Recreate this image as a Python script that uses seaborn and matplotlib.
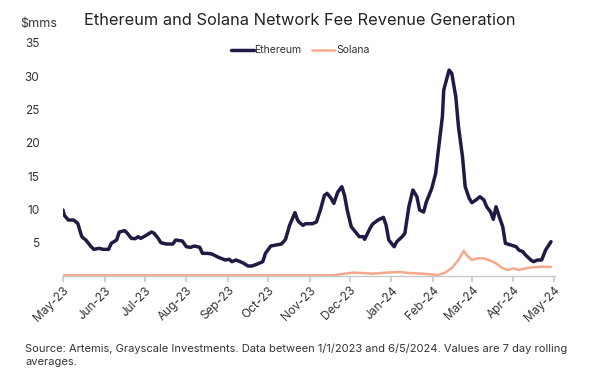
import matplotlib
matplotlib.use("Agg")
import matplotlib.pyplot as plt
import matplotlib.dates as mdates
from matplotlib.lines import Line2D
import seaborn as sns
import pandas as pd

eth_dates = ["2023-05-01","2023-05-02","2023-05-05","2023-05-09","2023-05-12","2023-05-15","2023-05-18",
             "2023-05-22","2023-05-24","2023-05-28","2023-05-31","2023-06-04","2023-06-06","2023-06-10",
             "2023-06-12","2023-06-16","2023-06-18","2023-06-21","2023-06-24","2023-06-26","2023-06-28",
             "2023-07-02","2023-07-06","2023-07-08","2023-07-11","2023-07-13","2023-07-17","2023-07-22",
             "2023-07-24","2023-07-29","2023-08-01","2023-08-04","2023-08-07","2023-08-11","2023-08-13",
             "2023-08-17","2023-08-20","2023-08-25","2023-08-30","2023-09-02","2023-09-04","2023-09-07",
             "2023-09-12","2023-09-16","2023-09-19","2023-09-23","2023-09-27","2023-09-29","2023-10-03",
             "2023-10-07","2023-10-11","2023-10-14","2023-10-17","2023-10-21","2023-10-23","2023-10-24",
             "2023-10-27","2023-10-29","2023-11-03","2023-11-06","2023-11-09","2023-11-12","2023-11-14",
             "2023-11-17","2023-11-19","2023-11-22","2023-11-25","2023-11-27","2023-11-29","2023-12-02",
             "2023-12-06","2023-12-08","2023-12-11","2023-12-12","2023-12-16","2023-12-18","2023-12-22",
             "2023-12-26","2023-12-28","2023-12-30","2024-01-03","2024-01-05","2024-01-09","2024-01-11",
             "2024-01-14","2024-01-17","2024-01-20","2024-01-22","2024-01-25","2024-01-27","2024-01-31",
             "2024-02-03","2024-02-05","2024-02-08","2024-02-09","2024-02-11","2024-02-13","2024-02-15",
             "2024-02-18","2024-02-20","2024-02-23","2024-02-25","2024-02-28","2024-03-01","2024-03-04",
             "2024-03-07","2024-03-10","2024-03-12","2024-03-15","2024-03-17","2024-03-19","2024-03-21",
             "2024-03-24","2024-03-26","2024-03-30","2024-04-03","2024-04-05","2024-04-08","2024-04-10",
             "2024-04-14","2024-04-16","2024-04-19","2024-04-22","2024-04-25","2024-04-29"]
eth_values = [9.9, 9.1, 8.4, 8.4, 7.9, 5.9, 5.4,
              4.4, 4.0, 4.15, 4.0, 4.0, 4.9, 5.4,
              6.6, 6.8, 6.4, 5.65, 5.6, 5.9, 5.65,
              6.1, 6.6, 6.4, 5.65, 5.0, 4.8, 4.8,
              5.4, 5.25, 4.4, 4.3, 4.5, 4.3, 3.4,
              3.4, 3.3, 2.8, 2.4, 2.5, 2.15, 2.4,
              2.0, 1.5, 1.5, 1.8, 2.15, 3.4, 4.5,
              4.65, 4.8, 5.5, 7.6, 9.5, 8.4, 8.1,
              7.6, 7.85, 7.85, 8.1, 9.9, 12.1, 12.4,
              11.65, 10.9, 12.6, 13.4, 12.1, 9.9, 7.4,
              6.4, 5.9, 5.9, 5.5, 7.15, 7.8, 8.4,
              8.8, 7.65, 5.4, 4.4, 5.15, 5.9, 6.4,
              10.4, 12.9, 11.9, 9.9, 9.6, 11.1, 13.1,
              15.4, 18.9, 23.9, 27.9, 29.4, 30.9, 30.4,
              26.9, 22.4, 17.9, 13.4, 11.65, 11.0, 11.4,
              11.9, 11.4, 10.4, 9.6, 8.5, 10.4, 9.15,
              7.4, 4.9, 4.65, 4.4, 3.9, 3.65, 3.15,
              2.4, 2.15, 2.4, 2.4, 3.9, 5.15]

sol_dates = ["2023-05-01","2023-07-01","2023-09-01","2023-10-24","2023-11-18","2023-11-25","2023-12-03",
             "2023-12-10","2023-12-18","2023-12-28","2024-01-07","2024-01-14","2024-01-24","2024-02-05",
             "2024-02-10","2024-02-15","2024-02-20","2024-02-24","2024-02-26","2024-03-01","2024-03-05",
             "2024-03-10","2024-03-15","2024-03-19","2024-03-24","2024-03-28","2024-04-01","2024-04-05",
             "2024-04-10","2024-04-15","2024-04-22","2024-04-29"]
sol_values = [0.1, 0.1, 0.1, 0.1, 0.1, 0.3, 0.5,
              0.45, 0.35, 0.5, 0.6, 0.45, 0.35, 0.15,
              0.5, 1.2, 2.4, 3.8, 3.15, 2.4, 2.65,
              2.65, 2.3, 1.9, 1.15, 0.9, 1.15, 0.9,
              1.15, 1.3, 1.4, 1.35]

series_names = ["Ethereum", "Solana"]
series_colors = ["#1e1b45", "#f5a98c"]
y_ticks = [5, 10, 15, 20, 25, 30, 35]
x_ticks = ["2023-05-01","2023-06-01","2023-07-01","2023-08-01","2023-09-01","2023-10-01","2023-11-01",
           "2023-12-01","2024-01-01","2024-02-01","2024-03-01","2024-04-01","2024-05-01"]

df = pd.concat([
    pd.DataFrame({"date": pd.to_datetime(eth_dates), "value": eth_values, "series": series_names[0]}),
    pd.DataFrame({"date": pd.to_datetime(sol_dates), "value": sol_values, "series": series_names[1]}),
])

sns.set_theme(style="white")
plt.rcParams["font.family"] = ["Inter", "DejaVu Sans"]

fig = plt.figure(figsize=(6, 3.75), dpi=100)
ax = fig.add_axes([0.105, 0.264, 0.82, 0.622])

sns.lineplot(data=df, x="date", y="value", hue="series", hue_order=series_names,
             palette=dict(zip(series_names, series_colors)), ax=ax, legend=False)
widths = [2.5, 1.8]
for line, lw in zip(ax.get_lines(), widths):
    line.set_linewidth(lw)
    line.set_solid_capstyle("round")
    line.set_solid_joinstyle("round")

ax.set_ylim(0, 35)
ax.set_xlim(pd.Timestamp(x_ticks[0]), pd.Timestamp(x_ticks[-1]) + pd.Timedelta(days=1))
ax.set_yticks(y_ticks)
ax.set_xticks(pd.to_datetime(x_ticks))
ax.xaxis.set_major_formatter(mdates.DateFormatter("%b-%y"))
ax.set_xlabel("")
ax.set_ylabel("")
for s in ["top", "right", "left"]:
    ax.spines[s].set_visible(False)
ax.spines["bottom"].set_color("#c8c8c8")
ax.spines["bottom"].set_linewidth(1.0)
ax.tick_params(axis="x", which="major", bottom=True, length=4, color="#c8c8c8",
               labelsize=8.5, labelcolor="#333333", pad=2)
ax.tick_params(axis="y", left=False, labelsize=8.5, labelcolor="#333333", pad=11)
plt.setp(ax.get_xticklabels(), rotation=45, ha="right", rotation_mode="anchor")

handles = [Line2D([], [], color=c, lw=lw) for c, lw in zip(series_colors, widths)]
fig.legend(handles, series_names, loc="center", bbox_to_anchor=(0.5, 0.866), ncol=2, frameon=False,
           fontsize=7.5, handlelength=2.2, handletextpad=0.1, columnspacing=1.0, labelcolor="#333333")

fig.text(0.499, 0.945, "Ethereum and Solana Network Fee Revenue Generation", ha="center", va="center",
         fontsize=11.8, color="#222222")
fig.text(0.065, 0.935, "$mms", ha="center", va="center", fontsize=9, color="#333333")
fig.text(0.042, 0.053, "Source: Artemis, Grayscale Investments. Data between 1/1/2023 and 6/5/2024. Values are 7 day rolling\naverages.",
         ha="left", va="center", fontsize=8, color="#333333", linespacing=1.45)

fig.savefig("out.png", dpi=100)
